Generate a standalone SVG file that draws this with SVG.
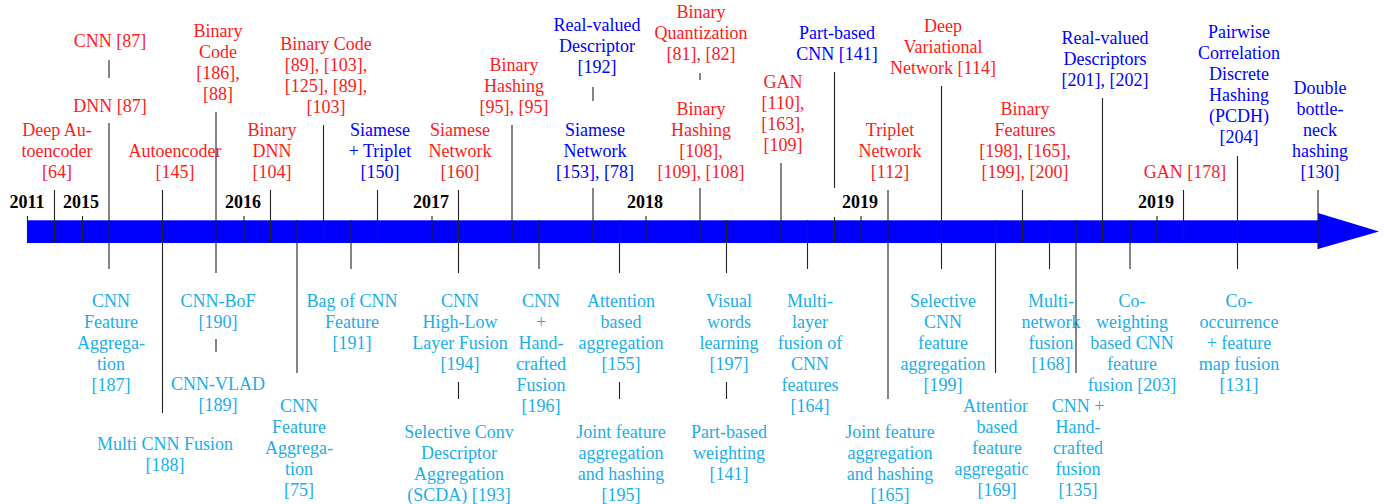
<svg xmlns="http://www.w3.org/2000/svg" width="1384" height="504" viewBox="0 0 1384 504">
<style>
text{font-family:"Liberation Serif","Times New Roman",serif;font-size:18px;text-anchor:middle}
.r{fill:#ff1a1a}.b{fill:#0000ff}.c{fill:#1aaeea}
.yr{font-weight:bold;fill:#000}
#connectors line{stroke:#222;stroke-width:1.1}
</style>
<defs>
<clipPath id="clip169"><rect x="900" y="390" width="128" height="114"/></clipPath>
</defs>
<rect width="1384" height="504" fill="#fff"/>
<g id="timeline">
<rect x="27" y="220" width="1291" height="23" fill="#0000ff"/>
<line x1="27" y1="220.5" x2="1318" y2="220.5" stroke="#4a4aff" stroke-width="1"/>
<polygon points="1318,213 1379,231.5 1318,249" fill="#0000ff"/>
<text class="yr" x="27" y="208">2011</text>
<text class="yr" x="81" y="208">2015</text>
<text class="yr" x="243" y="208">2016</text>
<text class="yr" x="431" y="208">2017</text>
<text class="yr" x="645" y="208">2018</text>
<text class="yr" x="860" y="208">2019</text>
<text class="yr" x="1156" y="208">2019</text>
</g>
<g id="n_deepae"><text class="r"><tspan x="57" y="136">Deep Au-</tspan><tspan x="57" y="157">toencoder</tspan><tspan x="57" y="178">[64]</tspan></text></g>
<g id="n_cnn87"><text class="r" x="110" y="47">CNN [87]</text></g>
<g id="n_dnn87"><text class="r" x="110" y="112">DNN [87]</text></g>
<g id="n_autoenc"><text class="r"><tspan x="175" y="157">Autoencoder</tspan><tspan x="175" y="178">[145]</tspan></text></g>
<g id="n_bincode186"><text class="r"><tspan x="218" y="36.5">Binary</tspan><tspan x="218" y="57.5">Code</tspan><tspan x="218" y="78.5">[186],</tspan><tspan x="218" y="99.5">[88]</tspan></text></g>
<g id="n_bindnn"><text class="r"><tspan x="272" y="136">Binary</tspan><tspan x="272" y="157">DNN</tspan><tspan x="272" y="178">[104]</tspan></text></g>
<g id="n_bincode89"><text class="r"><tspan x="326" y="50">Binary Code</tspan><tspan x="326" y="71">[89], [103],</tspan><tspan x="326" y="92">[125], [89],</tspan><tspan x="326" y="113">[103]</tspan></text></g>
<g id="n_siamtrip"><text class="b"><tspan x="380" y="136">Siamese</tspan><tspan x="380" y="157">+ Triplet</tspan><tspan x="380" y="178">[150]</tspan></text></g>
<g id="n_siam160"><text class="r"><tspan x="460" y="136">Siamese</tspan><tspan x="460" y="157">Network</tspan><tspan x="460" y="178">[160]</tspan></text></g>
<g id="n_binhash95"><text class="r"><tspan x="514" y="71">Binary</tspan><tspan x="514" y="92">Hashing</tspan><tspan x="514" y="113">[95], [95]</tspan></text></g>
<g id="n_realval192"><text class="b"><tspan x="597" y="31">Real-valued</tspan><tspan x="597" y="52">Descriptor</tspan><tspan x="597" y="73">[192]</tspan></text></g>
<g id="n_siam153"><text class="b"><tspan x="595" y="136">Siamese</tspan><tspan x="595" y="157">Network</tspan><tspan x="595" y="178">[153], [78]</tspan></text></g>
<g id="n_binquant"><text class="r"><tspan x="701" y="18">Binary</tspan><tspan x="701" y="39">Quantization</tspan><tspan x="701" y="60">[81], [82]</tspan></text></g>
<g id="n_binhash108"><text class="r"><tspan x="701" y="115">Binary</tspan><tspan x="701" y="136">Hashing</tspan><tspan x="701" y="157">[108],</tspan><tspan x="701" y="178">[109], [108]</tspan></text></g>
<g id="n_gan110"><text class="r"><tspan x="783" y="88">GAN</tspan><tspan x="783" y="109">[110],</tspan><tspan x="783" y="130">[163],</tspan><tspan x="783" y="151">[109]</tspan></text></g>
<g id="n_partcnn"><text class="b"><tspan x="837" y="39">Part-based</tspan><tspan x="837" y="60">CNN [141]</tspan></text></g>
<g id="n_triplet"><text class="r"><tspan x="890" y="136">Triplet</tspan><tspan x="890" y="157">Network</tspan><tspan x="890" y="178">[112]</tspan></text></g>
<g id="n_deepvar"><text class="r"><tspan x="943" y="32">Deep</tspan><tspan x="943" y="53">Variational</tspan><tspan x="943" y="74">Network [114]</tspan></text></g>
<g id="n_binfeat"><text class="r"><tspan x="1025" y="115">Binary</tspan><tspan x="1025" y="136">Features</tspan><tspan x="1025" y="157">[198], [165],</tspan><tspan x="1025" y="178">[199], [200]</tspan></text></g>
<g id="n_realval201"><text class="b"><tspan x="1105" y="44">Real-valued</tspan><tspan x="1105" y="65">Descriptors</tspan><tspan x="1105" y="86">[201], [202]</tspan></text></g>
<g id="n_gan178"><text class="r" x="1185" y="178">GAN [178]</text></g>
<g id="n_pcdh"><text class="b"><tspan x="1239" y="38">Pairwise</tspan><tspan x="1239" y="59">Correlation</tspan><tspan x="1239" y="80">Discrete</tspan><tspan x="1239" y="101">Hashing</tspan><tspan x="1239" y="122">(PCDH)</tspan><tspan x="1239" y="143">[204]</tspan></text></g>
<g id="n_dbn"><text class="b"><tspan x="1320" y="94">Double</tspan><tspan x="1320" y="115">bottle-</tspan><tspan x="1320" y="136">neck</tspan><tspan x="1320" y="157">hashing</tspan><tspan x="1320" y="178">[130]</tspan></text></g>
<g id="n_cnnfa187"><text class="c"><tspan x="111" y="307">CNN</tspan><tspan x="111" y="328">Feature</tspan><tspan x="111" y="349">Aggrega-</tspan><tspan x="111" y="370">tion</tspan><tspan x="111" y="391">[187]</tspan></text></g>
<g id="n_cnnbof"><text class="c"><tspan x="218" y="307">CNN-BoF</tspan><tspan x="218" y="328">[190]</tspan></text></g>
<g id="n_cnnvlad"><text class="c"><tspan x="218" y="390">CNN-VLAD</tspan><tspan x="218" y="411">[189]</tspan></text></g>
<g id="n_multicnn"><text class="c"><tspan x="165" y="450">Multi CNN Fusion</tspan><tspan x="165" y="471">[188]</tspan></text></g>
<g id="n_cnnfa75"><text class="c"><tspan x="299" y="412">CNN</tspan><tspan x="299" y="433">Feature</tspan><tspan x="299" y="454">Aggrega-</tspan><tspan x="299" y="475">tion</tspan><tspan x="299" y="496">[75]</tspan></text></g>
<g id="n_bagcnn"><text class="c"><tspan x="352" y="307">Bag of CNN</tspan><tspan x="352" y="328">Feature</tspan><tspan x="352" y="349">[191]</tspan></text></g>
<g id="n_highlow"><text class="c"><tspan x="460" y="307">CNN</tspan><tspan x="460" y="328">High-Low</tspan><tspan x="460" y="349">Layer Fusion</tspan><tspan x="460" y="370">[194]</tspan></text></g>
<g id="n_scda"><text class="c"><tspan x="459" y="438">Selective Conv</tspan><tspan x="459" y="459">Descriptor</tspan><tspan x="459" y="480">Aggregation</tspan><tspan x="459" y="501">(SCDA) [193]</tspan></text></g>
<g id="n_hand196"><text class="c"><tspan x="541" y="307">CNN</tspan><tspan x="541" y="328">+</tspan><tspan x="541" y="349">Hand-</tspan><tspan x="541" y="370">crafted</tspan><tspan x="541" y="391">Fusion</tspan><tspan x="541" y="412">[196]</tspan></text></g>
<g id="n_attagg155"><text class="c"><tspan x="621" y="307">Attention</tspan><tspan x="621" y="328">based</tspan><tspan x="621" y="349">aggregation</tspan><tspan x="621" y="370">[155]</tspan></text></g>
<g id="n_joint195"><text class="c"><tspan x="621" y="438">Joint feature</tspan><tspan x="621" y="459">aggregation</tspan><tspan x="621" y="480">and hashing</tspan><tspan x="621" y="501">[195]</tspan></text></g>
<g id="n_visual"><text class="c"><tspan x="729" y="307">Visual</tspan><tspan x="729" y="328">words</tspan><tspan x="729" y="349">learning</tspan><tspan x="729" y="370">[197]</tspan></text></g>
<g id="n_partweight"><text class="c"><tspan x="729" y="438">Part-based</tspan><tspan x="729" y="459">weighting</tspan><tspan x="729" y="480">[141]</tspan></text></g>
<g id="n_multilayer"><text class="c"><tspan x="810" y="307">Multi-</tspan><tspan x="810" y="328">layer</tspan><tspan x="810" y="349">fusion of</tspan><tspan x="810" y="370">CNN</tspan><tspan x="810" y="391">features</tspan><tspan x="810" y="412">[164]</tspan></text></g>
<g id="n_joint165"><text class="c"><tspan x="890" y="438">Joint feature</tspan><tspan x="890" y="459">aggregation</tspan><tspan x="890" y="480">and hashing</tspan><tspan x="890" y="501">[165]</tspan></text></g>
<g id="n_selcnn"><text class="c"><tspan x="943" y="307">Selective</tspan><tspan x="943" y="328">CNN</tspan><tspan x="943" y="349">feature</tspan><tspan x="943" y="370">aggregation</tspan><tspan x="943" y="391">[199]</tspan></text></g>
<g id="n_att169" clip-path="url(#clip169)"><text class="c"><tspan x="997" y="412">Attention</tspan><tspan x="997" y="433">based</tspan><tspan x="997" y="454">feature</tspan><tspan x="997" y="475">aggregation</tspan><tspan x="997" y="496">[169]</tspan></text></g>
<g id="n_multinet"><text class="c"><tspan x="1051" y="307">Multi-</tspan><tspan x="1051" y="328">network</tspan><tspan x="1051" y="349">fusion</tspan><tspan x="1051" y="370">[168]</tspan></text></g>
<g id="n_hand135"><text class="c"><tspan x="1078" y="412">CNN +</tspan><tspan x="1078" y="433">Hand-</tspan><tspan x="1078" y="454">crafted</tspan><tspan x="1078" y="475">fusion</tspan><tspan x="1078" y="496">[135]</tspan></text></g>
<g id="n_coweight"><text class="c"><tspan x="1132" y="307">Co-</tspan><tspan x="1132" y="328">weighting</tspan><tspan x="1132" y="349">based CNN</tspan><tspan x="1132" y="370">feature</tspan><tspan x="1132" y="391">fusion [203]</tspan></text></g>
<g id="n_cooccur"><text class="c"><tspan x="1239" y="307">Co-</tspan><tspan x="1239" y="328">occurrence</tspan><tspan x="1239" y="349">+ feature</tspan><tspan x="1239" y="370">map fusion</tspan><tspan x="1239" y="391">[131]</tspan></text></g>
<g id="connectors">
<line x1="27.5" y1="216" x2="27.5" y2="243"/>
<line x1="54.5" y1="190" x2="54.5" y2="243"/>
<line x1="82.5" y1="216" x2="82.5" y2="243"/>
<line x1="109" y1="60" x2="109" y2="78"/>
<line x1="109" y1="123" x2="109" y2="269"/>
<line x1="162.5" y1="190" x2="162.5" y2="413"/>
<line x1="216" y1="112" x2="216" y2="273"/>
<line x1="216" y1="339" x2="216" y2="352"/>
<line x1="244" y1="216" x2="244" y2="243"/>
<line x1="270.5" y1="190" x2="270.5" y2="243"/>
<line x1="297" y1="220" x2="297" y2="373"/>
<line x1="323.5" y1="125" x2="323.5" y2="243"/>
<line x1="351" y1="220" x2="351" y2="269"/>
<line x1="377.5" y1="190" x2="377.5" y2="243"/>
<line x1="432" y1="216" x2="432" y2="243"/>
<line x1="458.5" y1="190" x2="458.5" y2="273"/>
<line x1="458.5" y1="382" x2="458.5" y2="399"/>
<line x1="512" y1="125" x2="512" y2="243"/>
<line x1="539" y1="220" x2="539" y2="269"/>
<line x1="593" y1="87" x2="593" y2="101"/>
<line x1="593" y1="188" x2="593" y2="243"/>
<line x1="619.5" y1="220" x2="619.5" y2="273"/>
<line x1="619.5" y1="382" x2="619.5" y2="399"/>
<line x1="646" y1="216" x2="646" y2="243"/>
<line x1="700" y1="73" x2="700" y2="80"/>
<line x1="700" y1="188" x2="700" y2="243"/>
<line x1="726.5" y1="220" x2="726.5" y2="273"/>
<line x1="726.5" y1="382" x2="726.5" y2="399"/>
<line x1="781" y1="163" x2="781" y2="243"/>
<line x1="807.5" y1="220" x2="807.5" y2="269"/>
<line x1="834.5" y1="72" x2="834.5" y2="188"/>
<line x1="834.5" y1="217" x2="834.5" y2="243"/>
<line x1="861" y1="216" x2="861" y2="243"/>
<line x1="888" y1="190" x2="888" y2="399"/>
<line x1="941.5" y1="86" x2="941.5" y2="269"/>
<line x1="995.5" y1="220" x2="995.5" y2="373"/>
<line x1="1022.5" y1="190" x2="1022.5" y2="243"/>
<line x1="1049.5" y1="220" x2="1049.5" y2="269"/>
<line x1="1076" y1="220" x2="1076" y2="373"/>
<line x1="1102.5" y1="98" x2="1102.5" y2="243"/>
<line x1="1130" y1="220" x2="1130" y2="269"/>
<line x1="1157" y1="216" x2="1157" y2="243"/>
<line x1="1183.5" y1="190" x2="1183.5" y2="243"/>
<line x1="1237.5" y1="156" x2="1237.5" y2="269"/>
<line x1="1318" y1="190" x2="1318" y2="249"/>
</g>
</svg>
